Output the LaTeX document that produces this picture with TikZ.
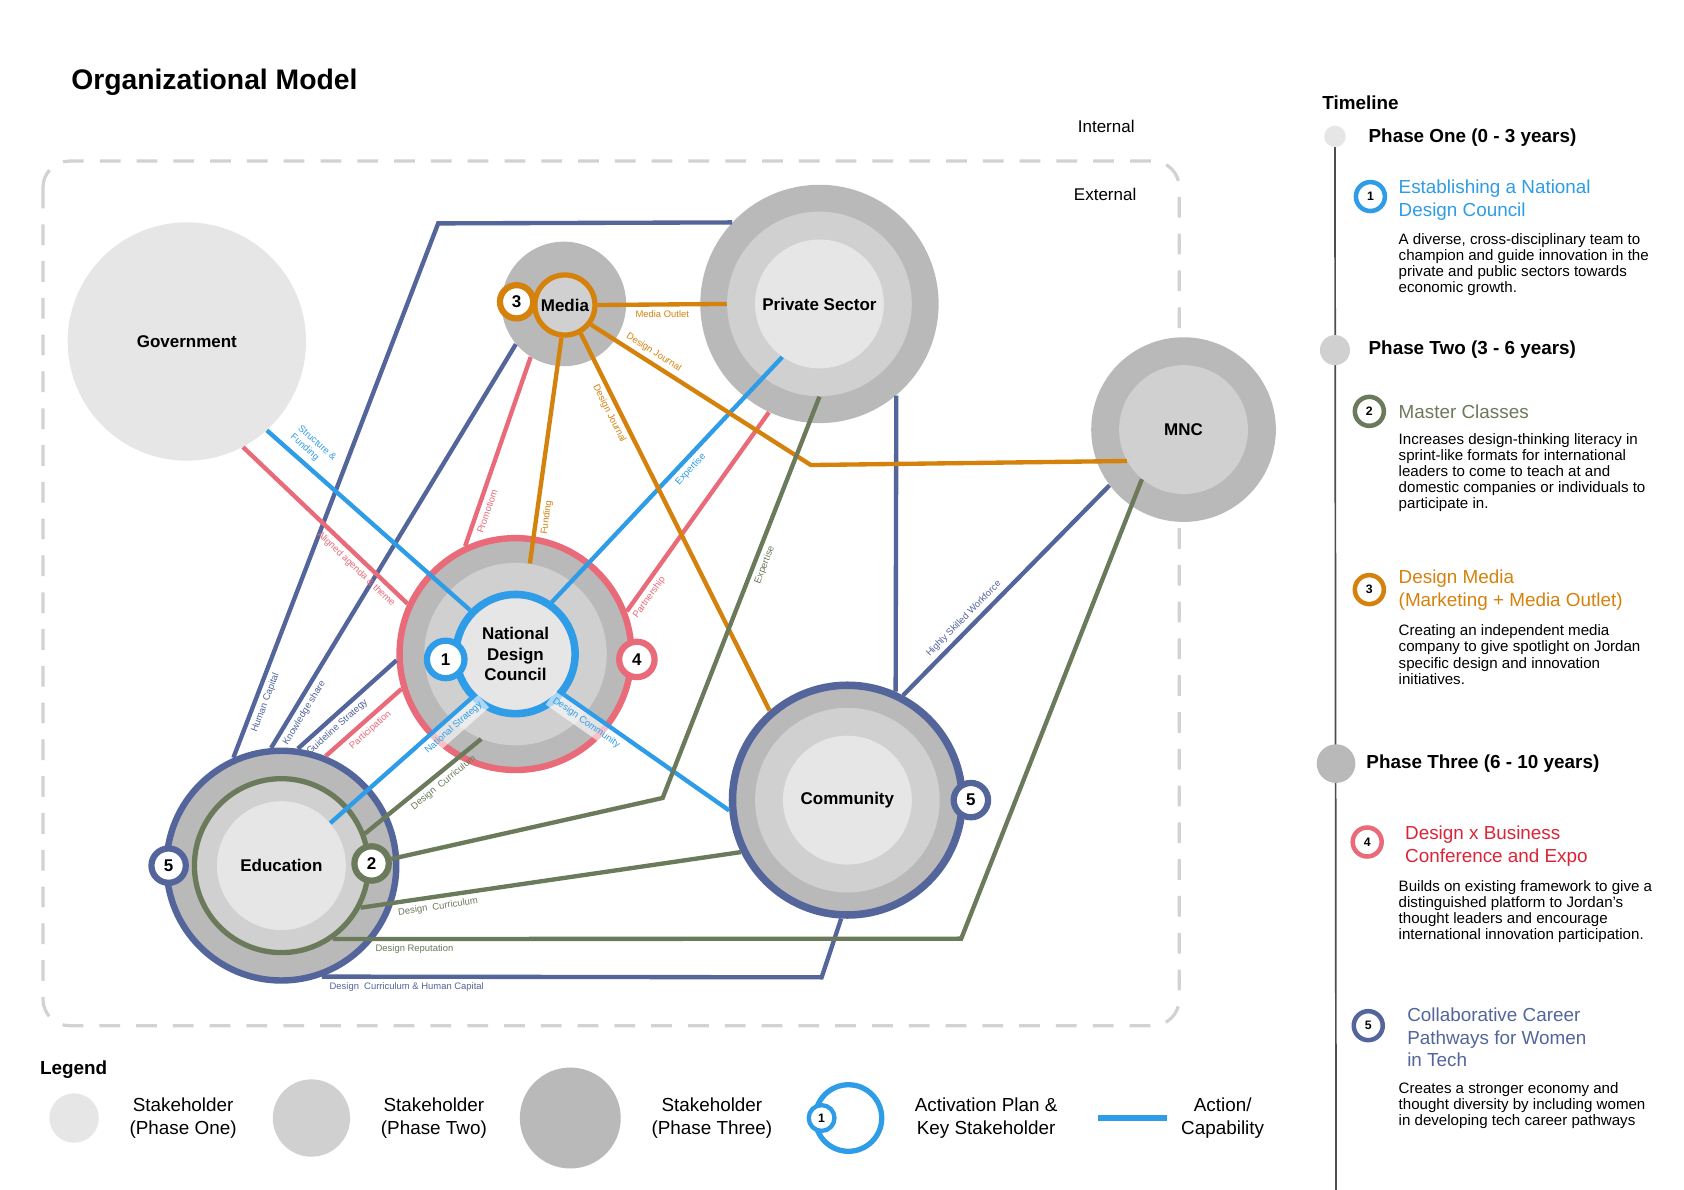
\documentclass[tikz,border=0pt]{standalone}
\usepackage{fontspec}
\setmainfont{Liberation Sans}
\usetikzlibrary{positioning}
\pgfdeclarelayer{front}
\pgfsetlayers{main,front}
\definecolor{cblue}{HTML}{2E9CE7}
\definecolor{cpink}{HTML}{E96B79}
\definecolor{corange}{HTML}{D5820D}
\definecolor{cnavy}{HTML}{53659B}
\definecolor{colive}{HTML}{6A7A5A}
\definecolor{cred}{HTML}{DA2538}
\definecolor{gA}{HTML}{E6E6E6}
\definecolor{gB}{HTML}{D0D0D0}
\definecolor{gC}{HTML}{B9B9B9}
\definecolor{gline}{HTML}{D2D2D2}
\definecolor{tlgray}{HTML}{4D4D4D}

\begin{document}
\begin{tikzpicture}[x=0.02cm, y=-0.02cm, node distance=0.56cm,
    every node/.append style={align=center},
    disc/.style={circle, inner sep=0pt, minimum size=#1*0.04cm},
    stake/.style={font=\fontsize{9}{10.8}\selectfont\bfseries},
    badge/.style={disc=17.5, draw=#1, line width=3.3pt, fill=white,
                  font=\fontsize{9}{11}\selectfont\bfseries},
    tbadge/.style={disc=13.5, draw=#1, line width=2.4pt, fill=white,
                   font=\fontsize{6.5}{7}\selectfont\bfseries},
    ln/.style={draw=#1, line width=2.3pt},
    lab/.style={font=\fontsize{5}{6}\selectfont, text=#1, sloped, inner sep=2pt},
    hl/.style={fill=white, fill opacity=.6, text opacity=1},
    txt/.style={anchor=west, inner sep=0pt, align=left},
    phasehd/.style={txt, font=\fontsize{10}{12}\selectfont\bfseries},
    tlhead/.style={txt, font=\fontsize{10}{11.9}\selectfont, text=#1},
    tldesc/.style={txt, font=\fontsize{8}{8.5}\selectfont},
    legtext/.style={inner sep=0pt, font=\fontsize{10}{11.9}\selectfont}]

\fill[white] (0,0) rectangle (1568,1108);
\useasboundingbox (0,0) rectangle (1568,1108);

\node[txt, font=\fontsize{15}{18}\selectfont\bfseries] (title) at (66,77) {Organizational Model};
\draw[gline, line width=1.7pt, dash pattern=on 11pt off 8.5pt, rounded corners=14pt]
  (40,150) rectangle (1098,955);
\node[font=\fontsize{9}{11}\selectfont] (int) at (1030,118) {Internal};
\node[font=\fontsize{9}{11}\selectfont] (ext) at (1029,181) {External};

\node[disc=111, fill=gA, stake] (gov) at (174,318) {Government};
\node[disc=58, fill=gC] (mediaO) at (525,283) {};
\node[disc=28, fill=gB, draw=corange, line width=2.8pt, stake] (media) at (526,284) {Media};
\node[disc=111, fill=gC] (priv) at (763,283) {};
\node[disc=86, fill=gB] (privM) at (763,283) {};
\node[disc=60, fill=gA, stake] (privI) at (763,283) {Private Sector};
\node[disc=86, fill=gC] (mnc) at (1102,400) {};
\node[disc=60, fill=gB, stake] (mncI) at (1102,400) {MNC};
\node[disc=108, fill=gC, draw=cpink, line width=3.4pt] (ndc) at (480,609) {};
\node[disc=85, fill=gB] (ndcM) at (480,609) {};
\node[disc=55.5, fill=gA, draw=cblue, line width=4pt, stake] (ndcB) at (480,609) {National\\Design\\Council};
\node[disc=107, fill=gC, draw=cnavy, line width=4pt] (comm) at (789,745) {};
\node[disc=86, fill=gB] (commM) at (789,745) {};
\node[disc=60, fill=gA, stake] (commI) at (789,745) {Community};
\node[disc=107, fill=gC, draw=cnavy, line width=3.4pt] (edu) at (262,806) {};
\node[disc=81, fill=gB, draw=colive, line width=2.8pt] (eduG) at (262,806) {};
\node[disc=60, fill=gA, stake] (eduI) at (262,806) {Education};

\begin{pgfonlayer}{front}
\node[badge=cblue] (b1) at (415,614) {1};
\node[badge=colive, disc=16] (b2) at (346,804) {2};
\node[badge=corange, disc=15.5] (b3) at (481,281) {3};
\node[badge=cpink, disc=16.5] (b4) at (593,614) {4};
\node[badge=cnavy, disc=16] (b5e) at (157,806) {5};
\node[badge=cnavy, disc=16] (b5c) at (904,745) {5};
\end{pgfonlayer}

\coordinate (hcA) at (408,208);
\coordinate (dchA) at (765,910);
\coordinate (djB) at (755,433);
\coordinate (expB) at (617,743);
\coordinate (repB) at (895,874);

\draw[ln=cnavy] (edu.114) -- node[lab=cnavy, pos=.11, below] {Human Capital} (hcA) -- (priv.137);
\path (edu.95) edge[ln=cnavy] node[lab=cnavy, pos=.1, below] {Knowledge share} (mediaO.220)
      (edu.82) edge[ln=cnavy] node[lab=cnavy, pos=.33, below] {Guideline Strategy} (ndc.183)
      (comm.66) edge[ln=cnavy] (priv.-50)
      (comm.62) edge[ln=cnavy] node[lab=cnavy, pos=.33, above] {Highly Skilled Workforce} (mnc.217);
\draw[ln=cnavy] (edu.-70) -- node[lab=cnavy, pos=.17, below] {Design\ \ Curriculum \& Human Capital} (dchA) -- (comm.-93);

\path (gov.-62) edge[ln=cpink] node[lab=cpink, pos=.73, below] {Aligned agenda \& theme} (ndc.155)
      (mediaO.238) edge[ln=cpink] node[lab=cpink, pos=.8, below] {Promotiom} (ndc.115)
      (priv.245) edge[ln=cpink] node[lab=cpink, pos=.9, below] {Partnership} (ndc.21)
      (edu.68) edge[ln=cpink] node[lab=cpink, pos=.5, below] {Participation} (ndc.197);

\path (gov.-48) edge[ln=cblue] node[lab=cblue, pos=.17, above=1pt, align=left] {Structure \&\\Funding} (ndcB.136)
      (privI.235) edge[ln=cblue] node[lab=cblue, pos=.43, below] {Expertise} (ndcB.55)
      (eduI.41) edge[ln=cblue] node[lab=cblue, pos=.83, below, hl] {National Strategy} (ndcB.225)
      (ndcB.-40) edge[ln=cblue] node[lab=cblue, pos=.17, below, hl] {Design Community} (comm.185);

\path (media.0) edge[ln=corange] node[lab=corange, pos=.5, below] {Media Outlet} (privM.180)
      (media.-96) edge[ln=corange] node[lab=corange, pos=.79, below] {Funding} (ndcM.81)
      (media.-61) edge[ln=corange] node[lab=corange, pos=.2, below] {Design Journal} (comm.131);
\draw[ln=corange] (media.-37) -- node[lab=corange, pos=.26, above] {Design Journal} (djB) -- (mncI.209);

\draw[ln=colive] (privM.-90) -- node[lab=colive, pos=.41, below] {Expertise} (expB) -- (b2.13);
\path (ndcM.248) edge[ln=colive] node[lab=colive, pos=.38, below] {Design\ \ Curriculum} (eduG.21)
      (comm.206) edge[ln=colive] node[lab=colive, pos=.8, below] {Design\ \ Curriculum} (eduG.-28);
\draw[ln=colive] (mncI.230) -- (repB) -- node[lab=colive, pos=.87, below] {Design Reputation} (eduG.-55);

\node[phasehd] (tl) at (1231,96) {Timeline};
\coordinate (tlTop) at (1243,127);
\coordinate (tlEnd) at (1244,1108);
\draw[tlgray, line width=0.9pt] (tlTop) -- (tlEnd);
\node[disc=10, fill=gA] (p1) at (1243,127) {};
\node[disc=14, fill=gB] (p2) at (1243,326) {};
\node[disc=18, fill=gC] (p3) at (1244,711) {};
\node[phasehd] (p1t) at (1274,128) {Phase One (0 - 3 years)};
\node[phasehd] (p2t) at (1274,326) {Phase Two (3 - 6 years)};
\node[phasehd] (p3t) at (1272,711) {Phase Three (6 - 10 years)};

\node[tbadge=cblue] (t1) at (1276,183) {1};
\node[tlhead=cblue] (h1) at (1302,186.5) {Establishing a National\\Design Council};
\node[tldesc] (d1) at (1302,246.5) {A diverse, cross-disciplinary team to\\champion and guide innovation in the\\private and public sectors towards\\economic growth.};
\node[tbadge=colive] (t2) at (1275,383) {2};
\node[tlhead=colive] (h2) at (1302,383) {Master Classes};
\node[tldesc] (d2) at (1302,440) {Increases design-thinking literacy in\\sprint-like formats for international\\leaders to come to teach at and\\domestic companies or individuals to\\participate in.};
\node[tbadge=corange] (t3) at (1275,549) {3};
\node[tlhead=corange] (h3) at (1302,549.5) {Design Media\\(Marketing + Media Outlet)};
\node[tldesc] (d3) at (1302,609.5) {Creating an independent media\\company to give spotlight on Jordan\\specific design and innovation\\initiatives.};
\node[tbadge=cpink] (t4) at (1273,784) {4};
\node[tlhead=cred] (h4) at (1308,788) {Design x Business\\Conference and Expo};
\node[tldesc] (d4) at (1302,848.5) {Builds on existing framework to give a\\distinguished platform to Jordan’s\\thought leaders and encourage\\international innovation participation.};
\node[tbadge=cnavy] (t5) at (1274,955) {5};
\node[tlhead=cnavy] (h5) at (1310,966) {Collaborative Career\\Pathways for Women\\in Tech};
\node[tldesc] (d5) at (1302,1029) {Creates a stronger economy and\\thought diversity by including women\\in developing tech career pathways};

\node[phasehd] (leg) at (37,996) {Legend};
\node[disc=23, fill=gA] (l1) at (69,1041) {};
\node[legtext, right=of l1] (l1t) {Stakeholder\\(Phase One)};
\node[disc=36, fill=gB] (l2) at (290,1041) {};
\node[legtext, right=of l2] (l2t) {Stakeholder\\(Phase Two)};
\node[disc=47, fill=gC] (l3) at (531,1041) {};
\node[legtext, right=of l3] (l3t) {Stakeholder\\(Phase Three)};
\node[disc=31, fill=white, draw=cblue, line width=2.8pt] (l4) at (790,1041) {};
\node[disc=12, fill=white, draw=cblue, line width=2.3pt, font=\fontsize{6.5}{7}\selectfont\bfseries] (l4b) at (765,1041) {1};
\node[legtext, right=of l4] (l4t) {Activation Plan \&\\Key Stakeholder};
\coordinate (a1) at (1022,1041);
\coordinate (a2) at (1087,1041);
\draw[cblue, line width=3.4pt] (a1) -- (a2);
\node[legtext, right=0.25cm of a2] (l5t) {Action/\\Capability};
\end{tikzpicture}
\end{document}
